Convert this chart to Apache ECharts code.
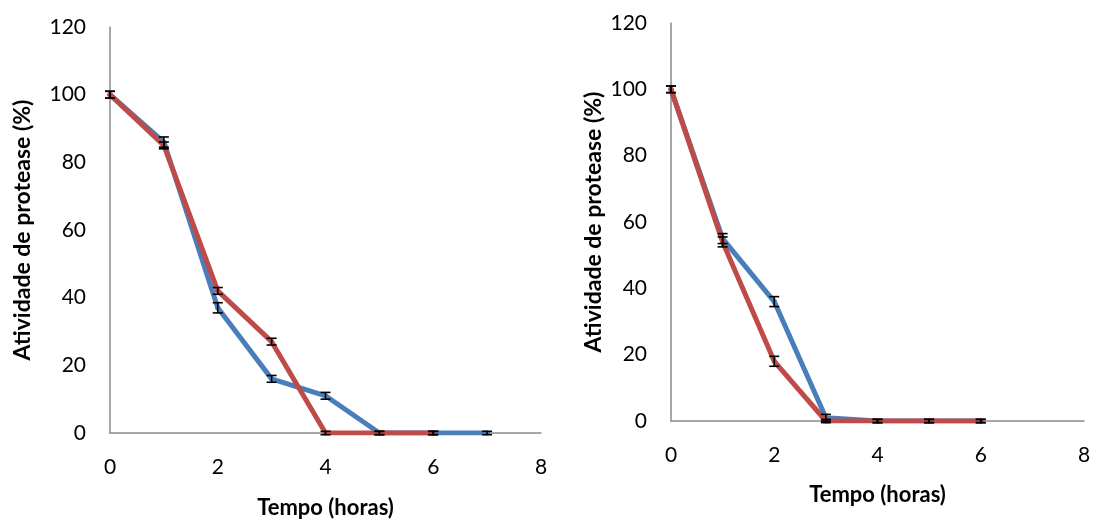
<!DOCTYPE html>
<html>
<head>
<meta charset="utf-8">
<title>Atividade de protease</title>
<script src="https://cdn.jsdelivr.net/npm/echarts@6/dist/echarts.min.js"></script>
<style>
  html, body { margin: 0; padding: 0; background: #ffffff; }
  #chart { width: 1094px; height: 521px; }
</style>
</head>
<body>
<div id="chart"></div>
<script>
// Time points (hours) for each panel
const leftHoursBlue = [0, 1, 2, 3, 4, 5, 6, 7];
const leftHoursRed = [0, 1, 2, 3, 4, 5, 6];
const rightHours = [0, 1, 2, 3, 4, 5, 6];

// Residual protease activity (%)
const leftBlue = [100, 86, 37, 16, 11, 0, 0, 0];
const leftRed = [100, 85, 42, 27, 0, 0, 0];
const rightBlue = [100, 55, 36, 1, 0, 0, 0];
const rightRed = [100, 54, 18, 0, 0, 0, 0];

// Standard deviations
const leftBlueErr = [1, 1.5, 1.5, 1, 1, 0.5, 0.5, 0.5];
const leftRedErr = [1, 1, 1, 1, 0.5, 0.5, 0.5];
const rightBlueErr = [1, 1.5, 1.5, 1, 0.5, 0.5, 0.5];
const rightRedErr = [1, 1.5, 1.5, 0.5, 0.5, 0.5, 0.5];

// Axis ticks and titles
const xTicks = { min: 0, max: 8, interval: 2 };
const yTicks = { min: 0, max: 120, interval: 20 };
const xTitle = 'Tempo (horas)';
const yTitle = 'Atividade de protease (%)';

const BLUE = '#4a7ebb';
const RED = '#be4b48';
const AXIS = '#8a8a8a';
const FONT = 'Lato, "Open Sans", sans-serif';

function pairs(xs, ys) { return xs.map((x, i) => [x, ys[i]]); }
function errRows(xs, ys, es) { return xs.map((x, i) => [x, ys[i] - es[i], ys[i] + es[i]]); }

function errorBars(params, api) {
  const x = api.value(0);
  const lo = api.coord([x, api.value(1)]);
  const hi = api.coord([x, api.value(2)]);
  const half = 5;
  const st = { stroke: '#000', lineWidth: 1.6 };
  return {
    type: 'group',
    children: [
      { type: 'line', shape: { x1: hi[0], y1: hi[1], x2: lo[0], y2: lo[1] }, style: st },
      { type: 'line', shape: { x1: hi[0] - half, y1: hi[1], x2: hi[0] + half, y2: hi[1] }, style: st },
      { type: 'line', shape: { x1: lo[0] - half, y1: lo[1], x2: lo[0] + half, y2: lo[1] }, style: st }
    ]
  };
}

function xAxisFor(idx, gap) {
  return {
    gridIndex: idx, type: 'value', min: xTicks.min, max: xTicks.max, interval: xTicks.interval,
    name: xTitle, nameLocation: 'middle', nameGap: gap,
    nameTextStyle: { fontFamily: FONT, fontWeight: 'bold', fontSize: 22, color: '#000' },
    axisLine: { show: true, onZero: false, lineStyle: { color: AXIS, width: 1.5 } },
    axisTick: { show: false },
    splitLine: { show: false },
    axisLabel: { margin: 24, fontFamily: FONT, fontSize: 21, color: '#000' }
  };
}
function yAxisFor(idx, gap) {
  return {
    gridIndex: idx, type: 'value', min: yTicks.min, max: yTicks.max, interval: yTicks.interval,
    name: yTitle, nameLocation: 'middle', nameGap: gap,
    nameTextStyle: { fontFamily: FONT, fontWeight: 'bold', fontSize: 23, color: '#000' },
    axisLine: { show: true, lineStyle: { color: AXIS, width: 1.5 } },
    axisTick: { show: false },
    splitLine: { show: false },
    axisLabel: { margin: 24, fontFamily: FONT, fontSize: 21, color: '#000' }
  };
}
function lineSeries(idx, data, color, z) {
  return {
    type: 'line', xAxisIndex: idx, yAxisIndex: idx, data: data, z: z,
    symbol: 'circle', symbolSize: 5, showSymbol: true,
    lineStyle: { color: color, width: 5, cap: 'round', join: 'round' },
    itemStyle: { color: color },
    animation: false
  };
}
function errSeries(idx, rows, z) {
  return {
    type: 'custom', xAxisIndex: idx, yAxisIndex: idx, data: rows, z: z,
    renderItem: errorBars, animation: false, clip: false,
    encode: { x: 0, y: [1, 2] }
  };
}

const chart = echarts.init(document.getElementById('chart'), null, { renderer: 'canvas' });
chart.setOption({
  backgroundColor: '#ffffff',
  animation: false,
  grid: [
    { left: 110, top: 27, width: 431, height: 406, outerBoundsMode: 'none', containLabel: false },
    { left: 671, top: 23, width: 413, height: 398, outerBoundsMode: 'none', containLabel: false }
  ],
  xAxis: [xAxisFor(0, 64), xAxisFor(1, 63)],
  yAxis: [yAxisFor(0, 76), yAxisFor(1, 66)],
  series: [
    lineSeries(0, pairs(leftHoursBlue, leftBlue), BLUE, 2),
    lineSeries(0, pairs(leftHoursRed, leftRed), RED, 3),
    errSeries(0, errRows(leftHoursBlue, leftBlue, leftBlueErr), 4),
    errSeries(0, errRows(leftHoursRed, leftRed, leftRedErr), 4),
    lineSeries(1, pairs(rightHours, rightBlue), BLUE, 2),
    lineSeries(1, pairs(rightHours, rightRed), RED, 3),
    errSeries(1, errRows(rightHours, rightBlue, rightBlueErr), 4),
    errSeries(1, errRows(rightHours, rightRed, rightRedErr), 4)
  ]
});
</script>
</body>
</html>
